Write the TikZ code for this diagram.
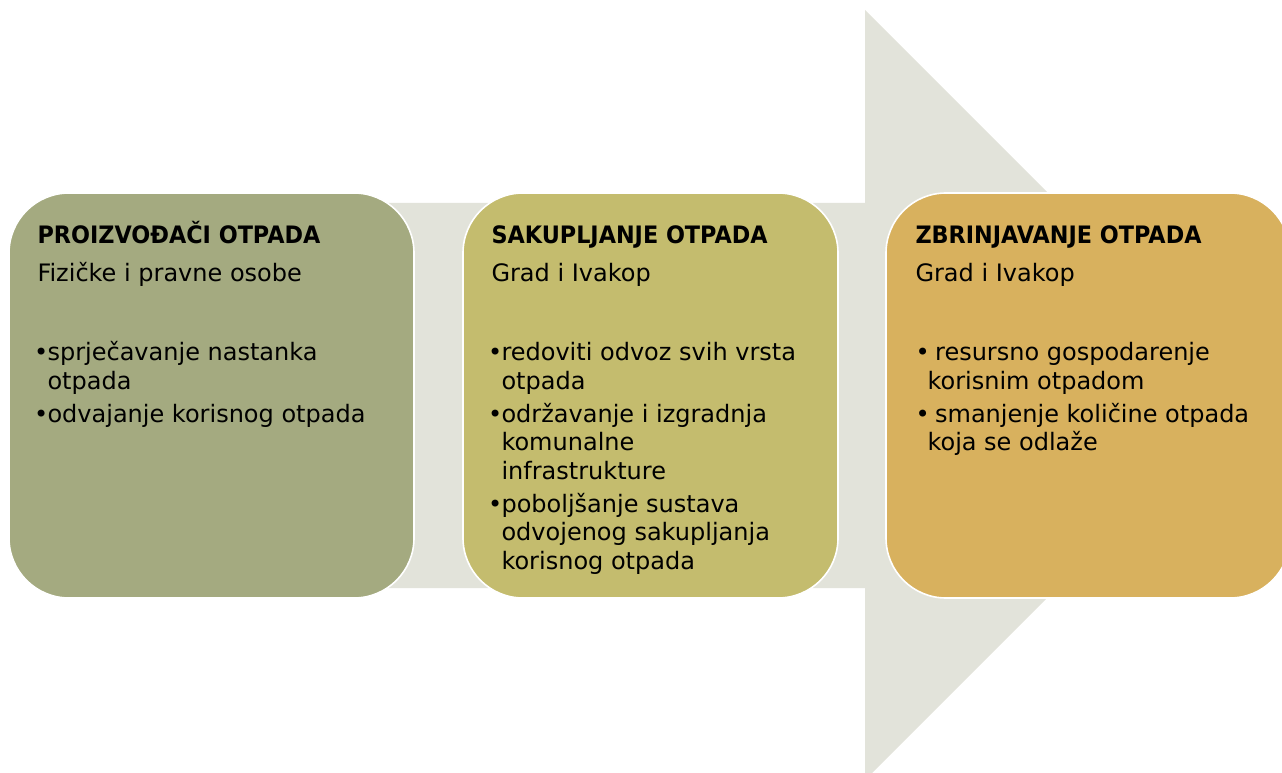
\documentclass[tikz,border=0pt]{standalone}
\usepackage{fontspec}
\setmainfont{DejaVu Sans}
\newfontfamily\headfont{DejaVu Sans}[FakeStretch=0.93]
\definecolor{arrowcol}{HTML}{E2E3DA}
\definecolor{prodcol}{HTML}{A4AA80}
\definecolor{collcol}{HTML}{C4BC6E}
\definecolor{dispcol}{HTML}{D8B15E}
\newcommand{\bul}{\makebox[7.5pt][l]{\hspace*{-2.5pt}•}}
\newcommand{\wbul}{\makebox[9pt][l]{•}\ }
\newcommand{\hang}[1][7.5pt]{\hspace*{#1}}
\newcommand{\stagehead}[1]{\rule{0pt}{18pt}{\headfont\bfseries #1}}

\tikzset{every picture/.style={line width=0.75pt}}
\tikzset{
  stage/.style={rounded corners=45pt, draw=white, line width=1.2pt, inner sep=0pt, minimum height=303.75pt},
  stagetext/.style={anchor=north west, inner sep=0pt, align=left, font=\fontsize{18}{21.4}\selectfont},
}

\begin{document}
\begin{tikzpicture}[x=0.75pt,y=0.75pt,yscale=-1,xscale=1]
\path [use as bounding box] (0,0) rectangle (1282,773);
\clip (0,0) rectangle (1282,773);

%Shape: big arrow behind the stages
\fill [arrowcol] (100,203) -- (865,203) -- (865,10) -- (1250,395) -- (865,780) -- (865,588) -- (100,588) -- cycle;

%Shape: stage boxes
\node (prodbox) [stage, fill=prodcol, minimum width=303.75pt] at (211.5,395.5) {};
\node (collbox) [stage, fill=collcol, minimum width=281.25pt] at (650.5,395.5) {};
\node (dispbox) [stage, fill=dispcol, minimum width=303pt] at (1088,395.5) {};

% Text Node
\node (prodtxt) [stagetext] at (37,219) {\stagehead{PROIZVOĐAČI OTPADA}\\[7.1pt]
Fizičke i pravne osobe\\[37.85pt]
\bul sprječavanje nastanka\\
\hang otpada\\[3.35pt]
\bul odvajanje korisnog otpada};
% Text Node
\node (colltxt) [stagetext] at (491,219) {\stagehead{SAKUPLJANJE OTPADA}\\[7.1pt]
Grad i Ivakop\\[37.85pt]
\bul redoviti odvoz svih vrsta\\
\hang otpada\\[3.35pt]
\bul održavanje i izgradnja\\
\hang komunalne\\
\hang infrastrukture\\[3.35pt]
\bul poboljšanje sustava\\
\hang odvojenog sakupljanja\\
\hang korisnog otpada};
% Text Node
\node (disptxt) [stagetext] at (915,219) {\stagehead{ZBRINJAVANJE OTPADA}\\[7.1pt]
Grad i Ivakop\\[37.85pt]
\wbul resursno gospodarenje\\
\hang[9pt]korisnim otpadom\\[3.35pt]
\wbul smanjenje količine otpada\\
\hang[9pt]koja se odlaže};

\end{tikzpicture}
\end{document}
